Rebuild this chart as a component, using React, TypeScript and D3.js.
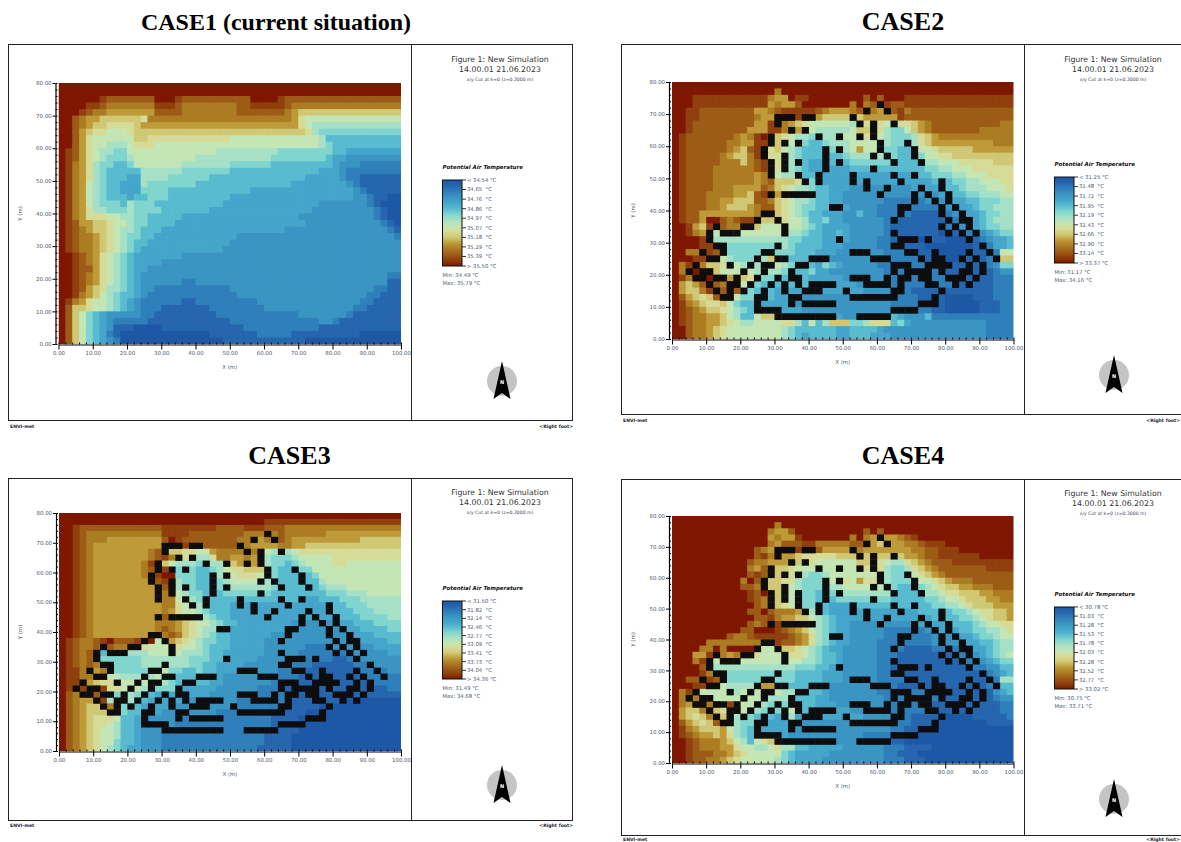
import { useEffect, useRef } from 'react';
import * as d3 from 'd3';

// colour of each level, 0 = coolest (top of legend), f = hottest
const levelColors = [
  '#1f59a6', '#2566ae', '#2f7fba', '#3a95c3', '#44a5ca', '#58bbcf', '#80d6cf', '#a6e0c6',
  '#c4e5b4', '#d6dc98', '#d0c874', '#be9a38', '#ab7b24', '#9d5c18', '#8f3f0c', '#7f1900'
];

const xTickValues = [0, 10, 20, 30, 40, 50, 60, 70, 80, 90, 100];
const yTickValues = [0, 10, 20, 30, 40, 50, 60, 70, 80];
const xMinorValues = d3.range(0, 101, 2);
const yMinorValues = d3.range(0, 81, 2);

// grid rows from y=80 down to y=0, 50 cells of 2 m each, one hex digit per cell = level
const case1Rows = [
  'ffffffffff ffffffffff ffffffffff ffffffffff ffffffffff',
  'ffffffffff ffffffffff ffffffffff ffffffffff ffffffffff',
  'ffffffeddd ddddfffedd ddddddddff ffeddddddd dddddddddd',
  'ffffeedccc cccceeedcc ccccccddee eeedcccccc cccccccccc',
  'fffedccbbb bbbbddddcc ccccccdddd dddcbaaaaa aaaaaaaaaa',
  'ffdcbbaaaa aa9ccccccc cccccccccc ccccb98888 8888888888',
  'ffdcbaa999 9abbbbbbbb bbbbbbbbbb bbbbb98777 7777777777',
  'ffdba99888 9aaaaaaaaa aaaaaaaaaa aaaaaa9766 6666666666',
  'ffdb988888 8aa9999999 9999988888 8888888875 5555555555',
  'ffdb988777 8999888888 8888888888 8888888876 5555555555',
  'fedb987766 8888888888 8887777777 7766666666 5544444444',
  'fedb987666 7888888888 7777777777 7666666665 4433333333',
  'fecb976655 6888888877 7777766666 6555555555 4333222222',
  'fecb976555 5577777766 6666655555 5555555544 4322222222',
  'fecb976555 4477776666 6655555555 5555554444 4322111111',
  'fecb876554 4476666666 5555555555 5555444444 4432111111',
  'fecb876554 4466665555 5555555544 4444444444 4443211111',
  'fecb876555 4556665555 5555544444 4444444444 4443321100',
  'fecb876665 7666555555 5555444444 4444444433 3333321000',
  'fecb977666 7666655555 5544444444 4444444333 3333332100',
  'fecb999887 7665555544 4444444444 4444433333 3333332100',
  'fedbbaa988 7665555444 4444444444 4444443333 3333333210',
  'fedcbaa987 7655544444 4444444444 4443333333 3333333321',
  'fedccba987 6655444444 4444443333 3333333333 3333333332',
  'fedccba987 6554444444 4444433333 3333333333 3333333333',
  'fedccba987 6544444444 4444333333 3333333333 3333333333',
  'ffedcb9876 5444444433 3333333333 3333333333 3333333333',
  'ffedcb9876 5444433333 3333333333 3333333333 3333333333',
  'ffeddb9876 5443333333 3333333333 3333333333 3333333333',
  'ffedcb9876 5433333333 3333333333 3333333333 3333333322',
  'ffedcb9876 5433333322 3333333333 3333333333 3333333311',
  'ffedba9776 5433222222 2222233333 3333333333 3333332211',
  'ffecba8765 5432222222 2222223333 3333333333 3333322111',
  'fecb988765 4322222211 2222222223 3333333333 3333221111',
  'fdaa988765 4322211111 1122222222 3333333333 3332211111',
  'fda8654333 3322111111 1112222222 2222233333 3321111111',
  'fda8654322 2221111111 1111122222 2222222233 2111111111',
  'fda8654311 1000011111 1111111222 2222222211 1111111111',
  'fda8654210 0000000000 0011111112 2222111111 1111000000',
  'fda8654320 0000000000 0000111111 1111110000 0000000000'
];

const case2Rows = [
  'ffffffffff ffffffffff ffffffffff ffffffffff ffffffffff',
  'ffffffffff fffffcffff ffffffffff ffffffffff ffffffffff',
  'fffeeeeeee eeeecbbfee ffffffffdf dfffeeeeee eeeeeeeeee',
  'fffeeeeeee eeeebcbbdf ffffffcfcd feddeeeeee eeeeeeeeee',
  'ffeedddddd ddbbcdeeee edcbbbcdec bbdecddddd dddddddddd',
  'ffeedddddd ddcbbfffee bbaaaaaabb bbbedddddd dddddddddd',
  'ffeddddddd ddbbefcba9 8888887a9a 98899abcdd ddddddddcc',
  'ffeddddddd dbbbeecab9 8777778aaa 97668abcdd dddddccccc',
  'fedddddddc bcefaa9877 6777788999 8766679abc cccccccccc',
  'feddddddcc bbeeaa9876 5567778888 7766679abb bbbbbbbccc',
  'feddddddcb adef9a8765 5556778b88 766555889a aaaabbbbbb',
  'fedddddcba acef998765 5555567777 7665556889 9aaaaaaaaa',
  'fedddddccc acde998765 4445556666 6655555778 8899999aaa',
  'feddddcccc ccde998765 4444445555 5555555667 7888999999',
  'feddddcccc ccbc987765 5444444444 4444455566 6778889999',
  'feddddcccc ccbcdaaa98 6544444444 4444444455 5667788899',
  'feddddcccb bbbdca9877 6554443333 3333344444 5567778889',
  'fedddccccb badedba987 6554433333 3333333334 4556677788',
  'fedddccbba aaddca9877 6554433333 3222222333 3445566677',
  'fedddccbaa abcdda9876 6554443333 2222222223 3344566777',
  'feddbbbbbb bbcdda9876 5544433533 2222211111 2334456677',
  'feddbffdcd eeeaaa9887 5564433333 3221111111 2234456777',
  'ffebaeddcc dda8888887 6544443333 3211111111 2233456677',
  'ffecbd8888 8888888776 5544543333 3211111110 1112334566',
  'ffffee7777 7777777665 5544443333 2211100011 0001123445',
  'ffffeed766 6666667655 5544433333 2221111000 0000112445',
  'ffcceedd66 6666666655 5444333333 3222221100 0001112288',
  'fffeeee876 6667aa6555 4443333333 2222221100 0011112 3aa',
  'fceecaa988 7778887655 5465433333 2222222222 1111112366',
  'fcdfeea888 8877776555 6443333333 3222222222 1111111233',
  'feceefeebe a976655555 4444433333 3222222222 1111111222',
  'fbabdedcee 8765555555 4444444333 3322222222 2111111222',
  'fbaaceeddd 7655544444 4444444433 3332211111 1111111222',
  'fdba9adee8 6655544443 3333333333 3332221111 0000111222',
  'fecba99a86 5544444433 3333333333 3322222211 0000011122',
  'fedcbaa987 6555444443 3333333333 3322222211 0000011122',
  'fedccbba87 558aaa4444 4444433333 3354333522 2222222222',
  'fedccbba98 7788889975 857aaa6679 9956433333 3333332222',
  'ffdccba988 8888887655 5555445555 4333333333 3333332222',
  'ffdccba988 8888887654 5555445554 4433333333 3333332222'
];

const case3Rows = [
  'ffffffffff ffffffffff ffffffffff ffffffffff ffffffffff',
  'ffffffffff ffffffffff ffffffffff eeeeeeeeee eeeeeeeeee',
  'ffeddddddd dddddeeeee eeeddddeee dddccccccc cccccccccc',
  'ffedcccccc ccccceeeed dddddddccc ccdccccccb bbbbbbbbbb',
  'ffedcccbbb bbbbbdfedd ddddddcccb cbdcbbbbbb bbbbaaaaaa',
  'ffedcbbbbb bbbbbcfeee dddddddcbb bbccbbaaaa aaaaaaaaaa',
  'ffedcbbbbb bbbcdcaa99 88bccccccb 8767899999 9999999999',
  'ffedcbbbbb bbbcdeca98 779ccbbcbb 7666788888 9999999999',
  'ffedcbbbbb bbcefa8777 6677aabbba 7665678888 9988888888',
  'ffedcbbbbb bbcdfe7666 5567899aaa 7655566888 8888888888',
  'ffedcbbbbb bbcdeff666 5557889998 7655555688 8888888888',
  'ffedcbbbbb bbbcdee766 5556788888 7655555578 8888888888',
  'ffedcbbbbb bbbbcde766 5556677777 7655555567 7788888888',
  'ffedcbbbbb bbbbccd876 6555666666 6555555556 6677788888',
  'ffedcbbbbb bbbbccc877 6555555555 5555544455 5666777777',
  'ffedcbbbbb bbbbbcc988 7655544444 4444444445 5566677777',
  'ffedcbbbbb bbbbbcb988 7655544444 4444444445 5556667777',
  'ffedcbbbbb bbbbcdca98 8765544444 4444444444 4555666677',
  'ffedcbbbbb bbbbcccba9 8876554444 4444333333 4445556666',
  'ffedcbbbbb bbbbcdcba9 8776544444 4443333333 3344555566',
  'ffedcbbbbb bbbcccdca9 8765544444 4333333333 3334445555',
  'fedccdefdd deef88ba98 7665544444 3333333333 3333444455',
  'fedccdddcc dd98888988 7655544444 3333332222 3333334444',
  'fedcdd5777 7778888877 7655444444 3333322222 2223333344',
  'fedcdd6666 6677777776 6655444443 3333322222 1122333333',
  'fedcdcc666 6677777776 6554444333 3332222111 1112223333',
  'feecbbc766 6666786655 6554443333 3322221111 1111222233',
  'feecccc887 7767886555 5544333333 3222211111 1111122222',
  'feeeba9988 8887776555 5544333333 3222111111 1111122222',
  'feee6ee998 8877666544 4443333332 2221011111 1111111122',
  'fdccdd6667 7655444444 4433333322 2222111111 1111111111',
  'fdcbbde767 7654444443 3333332222 2221111111 1100000000',
  'fdcbaabcd6 5544443333 3333322222 2211111100 0000000000',
  'fdcbaaabb6 5544433333 3332222222 2111110000 0000000000',
  'fdcba99985 5443333322 2222222222 2111100000 0000000000',
  'fdcba99875 5443333222 2222222222 2111100000 0000000000',
  'fdcba98875 5433322222 2222222222 2111100000 0000000000',
  'fdcba98875 5433322222 2222222222 1111000000 0000000000',
  'fdcba98865 5433322222 2222222222 1111000000 0000000000',
  'fdcba98765 4433322222 2222222221 1111000000 0000000000'
];

const case4Rows = [
  'ffffffffff ffffffffff ffffffffff ffffffffff ffffffffff',
  'ffffffffff fffffcffff ffffffffff ffffffffff ffffffffff',
  'ffffffffff ffffcbbdff ffffffffdf dfffffffff ffffffffff',
  'ffffffffff ffffbcbbef ffffffcfcb dbbcdeffff ffffffffff',
  'ffffffffff ffffcbddde ecccccddcb abbbccdeee ffffffffff',
  'ffffffffff ffdcbdfeee ddbbbbbcbb bbbbbccdde eeffffffff',
  'ffffffffff ffdeccbba9 9999aaabab aa9abbcdde eeeeefffff',
  'ffffffffff fdccbbbaa9 9888888aaa 98779abcdd deeeeeeeee',
  'ffffffffff fcbdaaa988 8888888999 976679abcd ddddddeeee',
  'ffffffffff fdedaa9987 6678888888 8766689abc dddddddddd',
  'ffffffffff cfdcaa9976 6678898b99 876666889a bcccdddddd',
  'ffffffffff ddcdaa9876 6667788888 8765556789 aabbcccddd',
  'ffffffffff fedfaaa876 6566777777 7765555778 99aaabbccc',
  'ffffffffff fedccaa876 6555666666 6655555667 889aaabbcc',
  'ffffffffff ffdcba9876 6554444555 5555555566 7789aaabbb',
  'ffffffffff fddfdcccb8 7654444444 4444445555 5667899aab',
  'ffffffffff ffddecbbaa 8765444444 4444444455 5566789aab',
  'ffffffffff fdcdfedccb 8765443333 3333334444 4555678899',
  'ffffffffff ddfffedcba 8765443333 3222222344 4455667789',
  'ffffffffdc cdeeeeedcb 9765443333 3222222233 3344566788',
  'fffffccccc cccddeddcb 9765443333 2222222233 3334455677',
  'ffffccfcff fff888aa98 7654433333 2222111122 2233445677',
  'fffbbeccbc cc98888998 7655433333 2221111111 1122345678',
  'fffce88888 8888888887 7655433333 2211111111 1122334566',
  'ffffdf7777 7777777766 6554433333 2211111111 1111223355',
  'ffffec6666 6666666655 5544433333 2211111111 1111122345',
  'ffddeedd66 6666666655 5544433333 2222111111 1111112277',
  'fffeeee877 777bb66555 4443333333 2221111111 1111112355',
  'fcee888887 8888887765 5543333333 2222222222 1111111345',
  'fcdcee8888 8888777655 5443333333 3222222222 1111111233',
  'fcbeece8e8 8887666555 5444333333 3222222111 1111111122',
  'fbaacea9ee 8776667855 4444443333 3322222211 1111111122',
  'fba9acaae7 7655544744 4444444433 3332211110 0000111112',
  'fdba9adee7 6655444433 3333333333 3322211110 0000001111',
  'fecbaaab87 6554444333 3333333333 3322111000 0000000000',
  'fedcbbab97 6555444333 3333333322 2221110000 0000000000',
  'ffedcccba8 7589aa3333 3333333322 2211000000 0000000000',
  'ffedcccbb9 8877897755 4444433333 3222111100 0000000000',
  'ffedddccba 9888886544 4443333333 3221110000 0000000000',
  'ffeddccba9 8888876544 4433333333 3222111000 0000000000'
];

// building cells: columns of each grid row, from y=80 down
const buildingCols = [
  [], [], [], [30], [28, 31], [15, 16, 17, 19, 20, 26], [15, 27, 29, 32], [17, 19, 29],
  [14, 21, 24, 27, 29], [14, 16, 18, 30, 34], [13, 22, 24, 30, 35], [13, 16, 22, 29, 31, 35],
  [14, 16, 18, 22, 24, 32, 36], [14, 16, 22, 29], [14, 18, 21, 26, 32, 35],
  [19, 21, 26, 28, 33, 39], [28, 31, 36, 39], [14, 16, 17, 18, 19, 20, 30, 35, 37, 40],
  [35, 38, 40], [23, 24, 33, 34, 39, 41], [13, 14, 33, 39, 42], [12, 15, 32, 40, 42, 43],
  [6, 10, 11, 16, 39, 41, 43], [5, 7, 8, 9, 16, 32, 40, 42, 44], [5, 24, 33, 34, 35, 37, 43],
  [6, 7, 15, 32, 33, 45], [4, 7, 13, 14, 26, 27, 28, 34, 35, 38, 43, 46],
  [5, 6, 12, 15, 16, 20, 21, 22, 29, 30, 31, 36, 38, 39, 42, 44, 47],
  [3, 8, 11, 13, 14, 18, 19, 32, 33, 34, 37, 38, 39, 40, 43, 45],
  [2, 4, 5, 10, 13, 17, 32, 34, 35, 36, 37, 39, 42, 43, 45],
  [3, 4, 6, 7, 9, 12, 15, 17, 18, 26, 27, 28, 31, 33, 34, 36, 37, 40, 41, 42, 44],
  [5, 8, 9, 11, 14, 16, 18, 20, 21, 22, 23, 28, 29, 30, 31, 33, 37, 38, 41, 43],
  [6, 8, 10, 13, 16, 19, 20, 21, 25, 32, 33, 39],
  [7, 8, 12, 13, 17, 18, 26, 27, 28, 29, 30, 31, 32, 38],
  [12, 17, 19, 20, 21, 22, 23, 36, 37, 38], [12, 13, 14, 15, 32, 33, 34, 35],
  [15, 16, 17, 18, 19, 20, 21, 22, 23, 27, 28, 29, 30, 31], [], [], []
];
const noBuildings = buildingCols.map(() => []);
const case4Extra = buildingCols.map((cols, i) => (i === 13 ? [...cols, 18] : cols));

const case1Legend = ['< 34.54', '34.65 ', '34.76 ', '34.86 ', '34.97 ', '35.07 ', '35.18 ', '35.29 ', '35.39 ', '> 35.50'];
const case2Legend = ['< 31.25', '31.48 ', '31.72 ', '31.95 ', '32.19 ', '32.43 ', '32.66 ', '32.90 ', '33.14 ', '> 33.37'];
const case3Legend = ['< 31.50', '31.82 ', '32.14 ', '32.46 ', '32.77 ', '33.09 ', '33.41 ', '33.73 ', '34.04 ', '> 34.36'];
const case4Legend = ['< 30.78', '31.03 ', '31.28 ', '31.53 ', '31.78 ', '32.03 ', '32.28 ', '32.52 ', '32.77 ', '> 33.02'];

const panels = [
  {
    title: 'CASE1 (current situation)', titleX: 276, titleY: 30, titleSize: 24, rows: case1Rows, buildings: noBuildings,
    legend: case1Legend, min: '34.49', max: '35.79',
    frame: [8.5, 44.5, 572.5, 420.5], divider: 411.5, plot: [58.5, 401, 83, 344],
    textX: 500, textY: 62, legendX: 442.5, legendY: [180, 266], north: [502, 381], footY: 428, footRight: 573
  },
  {
    title: 'CASE2', titleX: 903, titleY: 30, titleSize: 26, rows: case2Rows, buildings: buildingCols,
    legend: case2Legend, min: '31.17', max: '34.16',
    frame: [621.5, 44.5, 1186, 414.5], divider: 1024.5, plot: [672, 1013.5, 82, 339],
    textX: 1113, textY: 62, legendX: 1054.5, legendY: [177, 263], north: [1114, 375], footY: 422, footRight: 1180
  },
  {
    title: 'CASE3', titleX: 289.5, titleY: 464, titleSize: 26, rows: case3Rows, buildings: buildingCols,
    legend: case3Legend, min: '31.49', max: '34.68',
    frame: [8.5, 478.5, 572.5, 820.5], divider: 411.5, plot: [59, 401, 513, 751],
    textX: 500, textY: 495, legendX: 442.5, legendY: [601, 679], north: [502, 785], footY: 827, footRight: 573
  },
  {
    title: 'CASE4', titleX: 903, titleY: 464, titleSize: 26, rows: case4Rows, buildings: case4Extra,
    legend: case4Legend, min: '30.75', max: '33.71',
    frame: [621.5, 479.5, 1186, 835.5], divider: 1024.5, plot: [672, 1013.5, 516, 763],
    textX: 1113, textY: 496, legendX: 1054.5, legendY: [607, 689], north: [1114, 799], footY: 841, footRight: 1180
  }
];

const sansFont = '"DejaVu Sans", sans-serif';
const labelColor = '#4a5a70';

function drawPanel(svg, panel, index) {
  const [left, top, right, bottom] = panel.frame;
  const [px0, px1, py0, py1] = panel.plot;
  const g = svg.append('g');

  g.append('text')
    .attr('x', panel.titleX)
    .attr('y', panel.titleY)
    .attr('text-anchor', 'middle')
    .attr('font-family', '"Liberation Serif", serif')
    .attr('font-weight', 'bold')
    .attr('font-size', panel.titleSize)
    .attr('fill', '#000')
    .text(panel.title);

  g.append('rect')
    .attr('x', left)
    .attr('y', top)
    .attr('width', right - left)
    .attr('height', bottom - top)
    .attr('fill', '#fff')
    .attr('stroke', '#222');
  g.append('line')
    .attr('x1', panel.divider)
    .attr('x2', panel.divider)
    .attr('y1', top)
    .attr('y2', bottom)
    .attr('stroke', '#222');

  // heat map
  const xBand = d3.scaleBand().domain(d3.range(50)).range([px0, px1]);
  const yBand = d3.scaleBand().domain(d3.range(40)).range([py0, py1]);
  const color = d3.scaleLinear().domain(d3.range(16)).range(levelColors);
  const cells = panel.rows.flatMap((row, r) =>
    row
      .replace(/\s/g, '')
      .split('')
      .slice(0, 50)
      .map((ch, c) => ({ r, c, level: parseInt(ch, 16) }))
  );

  const clipId = `plot-clip-${index}`;
  svg.select('defs')
    .append('clipPath')
    .attr('id', clipId)
    .append('rect')
    .attr('x', px0)
    .attr('y', py0)
    .attr('width', px1 - px0)
    .attr('height', py1 - py0);

  const map = g.append('g').attr('clip-path', `url(#${clipId})`).append('g').attr('filter', 'url(#soft)');
  map
    .selectAll('rect.cell')
    .data(cells)
    .join('rect')
    .attr('class', 'cell')
    .attr('x', (d) => xBand(d.c))
    .attr('y', (d) => yBand(d.r))
    .attr('width', xBand.bandwidth() + 1)
    .attr('height', yBand.bandwidth() + 1)
    .attr('fill', (d) => color(d.level));

  const blocks = panel.buildings.flatMap((cols, r) => cols.map((c) => ({ r, c })));
  map
    .selectAll('rect.block')
    .data(blocks)
    .join('rect')
    .attr('class', 'block')
    .attr('x', (d) => xBand(d.c))
    .attr('y', (d) => yBand(d.r))
    .attr('width', xBand.bandwidth() + 0.3)
    .attr('height', yBand.bandwidth() + 0.3)
    .attr('fill', '#080808');

  // axes
  const xScale = d3.scaleLinear().domain([0, 100]).range([px0, px1]);
  const yScale = d3.scaleLinear().domain([0, 80]).range([py1, py0]);
  const axisX = py1 + 0.5;
  const axisLeft = px0 - 3;

  const styleAxis = (sel) => {
    sel.selectAll('text').attr('fill', labelColor).attr('font-family', sansFont).attr('font-size', 5.4);
    sel.selectAll('path,line').attr('stroke', '#000');
    sel.select('.domain').attr('stroke-width', 1.2);
  };

  g.append('g')
    .attr('transform', `translate(0,${axisX})`)
    .call(d3.axisBottom(xScale).tickValues(xMinorValues).tickSize(-2).tickFormat(() => '').tickSizeOuter(0))
    .call((sel) => sel.select('.domain').remove())
    .call(styleAxis);
  g.append('g')
    .attr('transform', `translate(0,${axisX})`)
    .call(d3.axisBottom(xScale).tickValues(xTickValues).tickSize(5).tickPadding(2).tickSizeOuter(0).tickFormat(d3.format('.2f')))
    .call(styleAxis);

  g.append('g')
    .attr('transform', `translate(${axisLeft},0)`)
    .call(d3.axisLeft(yScale).tickValues(yMinorValues).tickSize(-2).tickFormat(() => '').tickSizeOuter(0))
    .call((sel) => sel.select('.domain').remove())
    .call(styleAxis);
  g.append('g')
    .attr('transform', `translate(${axisLeft},0)`)
    .call(d3.axisLeft(yScale).tickValues(yTickValues).tickSize(3).tickPadding(1).tickSizeOuter(0).tickFormat(d3.format('.2f')))
    .call(styleAxis);

  g.append('text')
    .attr('x', (px0 + px1) / 2)
    .attr('y', py1 + 25)
    .attr('text-anchor', 'middle')
    .attr('font-family', sansFont)
    .attr('font-size', 5.4)
    .attr('fill', labelColor)
    .text('X (m)');
  g.append('text')
    .attr('transform', `translate(${left + 13},${(py0 + py1) / 2}) rotate(-90)`)
    .attr('text-anchor', 'middle')
    .attr('font-family', sansFont)
    .attr('font-size', 5.4)
    .attr('fill', labelColor)
    .text('Y (m)');

  // right-hand text block
  const head = g.append('g').attr('font-family', sansFont).attr('text-anchor', 'middle').attr('fill', '#333');
  head.append('text').attr('x', panel.textX).attr('y', panel.textY).attr('font-size', 7.8).text('Figure 1: New Simulation');
  head.append('text').attr('x', panel.textX).attr('y', panel.textY + 10).attr('font-size', 7.8).text('14.00.01 21.06.2023');
  head.append('text').attr('x', panel.textX).attr('y', panel.textY + 19).attr('font-size', 4.6).attr('fill', '#445').text('x/y Cut at k=0 (z=0.2000 m)');

  // legend
  const [ly0, ly1] = panel.legendY;
  const gradientId = `legend-${index}`;
  const gradient = svg.select('defs').append('linearGradient').attr('id', gradientId).attr('x1', 0).attr('x2', 0).attr('y1', 0).attr('y2', 1);
  levelColors.forEach((c, i) => {
    gradient.append('stop').attr('offset', i / (levelColors.length - 1)).attr('stop-color', c);
  });
  g.append('rect')
    .attr('x', panel.legendX)
    .attr('y', ly0)
    .attr('width', 19.5)
    .attr('height', ly1 - ly0)
    .attr('fill', `url(#${gradientId})`)
    .attr('stroke', '#111');
  g.append('text')
    .attr('x', panel.legendX)
    .attr('y', ly0 - 11.5)
    .attr('font-family', sansFont)
    .attr('font-size', 5.5)
    .attr('font-weight', 'bold')
    .attr('font-style', 'italic')
    .attr('fill', '#111')
    .text('Potential Air Temperature');

  const legendScale = d3.scalePoint().domain(d3.range(panel.legend.length)).range([ly0, ly1]);
  const legendItems = g
    .selectAll('g.legend-item')
    .data(panel.legend)
    .join('g')
    .attr('class', 'legend-item')
    .attr('transform', (d, i) => `translate(${panel.legendX + 19.5},${legendScale(i)})`);
  legendItems.append('line').attr('x2', 4).attr('stroke', '#333');
  legendItems
    .append('text')
    .attr('x', 5)
    .attr('dy', '0.35em')
    .attr('font-family', sansFont)
    .attr('font-size', 5.3)
    .attr('fill', labelColor)
    .style('white-space', 'pre')
    .text((d) => `${d} °C`);

  g.append('text').attr('x', panel.legendX).attr('y', ly1 + 11).attr('font-family', sansFont).attr('font-size', 5.3).attr('fill', labelColor).text(`Min: ${panel.min} °C`);
  g.append('text').attr('x', panel.legendX).attr('y', ly1 + 19).attr('font-family', sansFont).attr('font-size', 5.3).attr('fill', labelColor).text(`Max: ${panel.max} °C`);

  // north arrow
  const [nx, ny] = panel.north;
  const north = g.append('g').attr('transform', `translate(${nx},${ny})`);
  north.append('circle').attr('r', 15).attr('fill', '#c4c4c4');
  const arrow = d3.path();
  arrow.moveTo(0, -20);
  arrow.lineTo(8.5, 18);
  arrow.lineTo(0, 12);
  arrow.lineTo(-8.5, 18);
  arrow.closePath();
  north.append('path').attr('d', arrow.toString()).attr('fill', '#000');
  north.append('text').attr('y', 2.5).attr('text-anchor', 'middle').attr('font-family', sansFont).attr('font-size', 5).attr('font-weight', 'bold').attr('fill', '#fff').text('N');

  // footer
  g.append('text').attr('x', left + 1.5).attr('y', panel.footY).attr('font-family', sansFont).attr('font-size', 4.6).attr('font-weight', 'bold').attr('fill', '#223').text('ENVI-met');
  g.append('text').attr('x', panel.footRight).attr('y', panel.footY).attr('text-anchor', 'end').attr('font-family', sansFont).attr('font-size', 4.6).attr('font-weight', 'bold').attr('fill', '#223').text('<Right foot>');
}

export default function App() {
  const svgRef = useRef(null);

  useEffect(() => {
    const svg = d3.select(svgRef.current);
    svg.selectAll('*').remove();
    const defs = svg.append('defs');
    defs
      .append('filter')
      .attr('id', 'soft')
      .append('feGaussianBlur')
      .attr('stdDeviation', 0.5);
    panels.forEach((panel, i) => drawPanel(svg, panel, i));
  }, []);

  return (
    <svg
      ref={svgRef}
      width={1181}
      height={842}
      viewBox="0 0 1181 842"
      style={{ position: 'absolute', left: 0, top: 0, display: 'block', background: '#fff' }}
    />
  );
}
